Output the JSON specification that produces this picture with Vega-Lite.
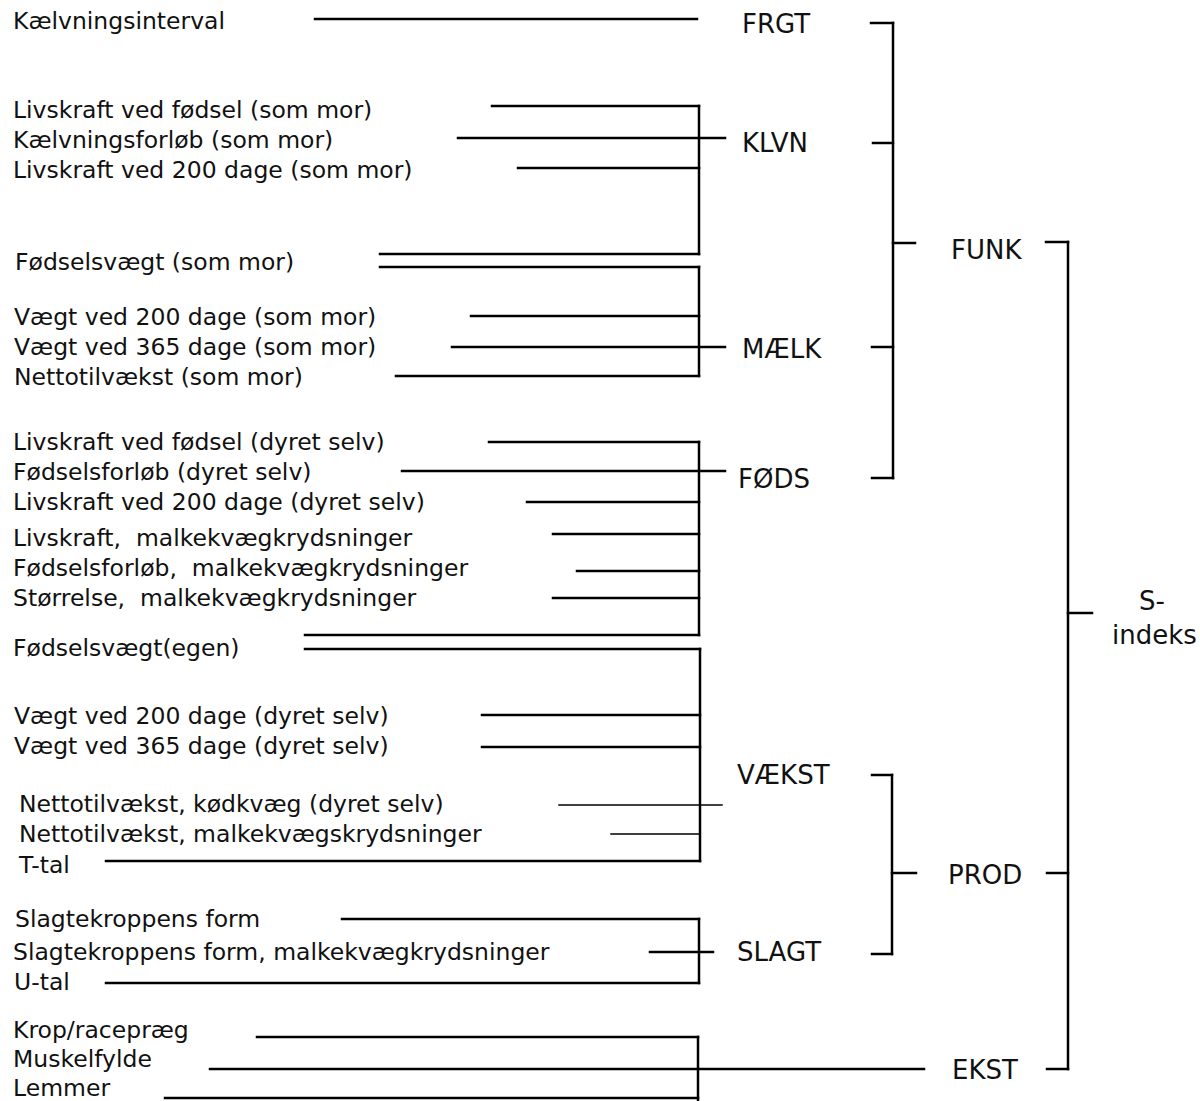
{
  "$schema": "https://vega.github.io/schema/vega-lite/v6.json",
  "autosize": {"type": "none"},
  "width": 1200,
  "height": 1101,
  "padding": 0,
  "background": "white",
  "config": {"view": {"stroke": null}},
  "datasets": {
    "linjer": [
      {"x": 315, "x2": 697, "y": 19, "y2": 19, "kind": "tyk"},
      {"x": 492, "x2": 699, "y": 106, "y2": 106, "kind": "tyk"},
      {"x": 458, "x2": 725, "y": 138, "y2": 138, "kind": "tyk"},
      {"x": 518, "x2": 699, "y": 168, "y2": 168, "kind": "tyk"},
      {"x": 380, "x2": 699, "y": 254, "y2": 254, "kind": "tyk"},
      {"x": 699, "x2": 699, "y": 106, "y2": 254, "kind": "tyk"},
      {"x": 380, "x2": 699, "y": 267, "y2": 267, "kind": "tyk"},
      {"x": 471, "x2": 699, "y": 316, "y2": 316, "kind": "tyk"},
      {"x": 452, "x2": 725, "y": 347, "y2": 347, "kind": "tyk"},
      {"x": 396, "x2": 699, "y": 376, "y2": 376, "kind": "tyk"},
      {"x": 699, "x2": 699, "y": 267, "y2": 376, "kind": "tyk"},
      {"x": 489, "x2": 699, "y": 442, "y2": 442, "kind": "tyk"},
      {"x": 402, "x2": 725, "y": 471, "y2": 471, "kind": "tyk"},
      {"x": 527, "x2": 699, "y": 502, "y2": 502, "kind": "tyk"},
      {"x": 553, "x2": 699, "y": 534, "y2": 534, "kind": "tyk"},
      {"x": 577, "x2": 699, "y": 571, "y2": 571, "kind": "tyk"},
      {"x": 553, "x2": 699, "y": 598, "y2": 598, "kind": "tyk"},
      {"x": 305, "x2": 699, "y": 635, "y2": 635, "kind": "tyk"},
      {"x": 699, "x2": 699, "y": 442, "y2": 635, "kind": "tyk"},
      {"x": 305, "x2": 700, "y": 649, "y2": 649, "kind": "tyk"},
      {"x": 482, "x2": 700, "y": 715, "y2": 715, "kind": "tyk"},
      {"x": 482, "x2": 700, "y": 747, "y2": 747, "kind": "tyk"},
      {"x": 559, "x2": 722, "y": 805, "y2": 805, "kind": "tynd"},
      {"x": 611, "x2": 700, "y": 834, "y2": 834, "kind": "tynd"},
      {"x": 106, "x2": 700, "y": 861, "y2": 861, "kind": "tyk"},
      {"x": 700, "x2": 700, "y": 649, "y2": 861, "kind": "tyk"},
      {"x": 342, "x2": 699, "y": 919, "y2": 919, "kind": "tyk"},
      {"x": 650, "x2": 713, "y": 952, "y2": 952, "kind": "tyk"},
      {"x": 106, "x2": 699, "y": 983, "y2": 983, "kind": "tyk"},
      {"x": 699, "x2": 699, "y": 919, "y2": 983, "kind": "tyk"},
      {"x": 257, "x2": 698, "y": 1037, "y2": 1037, "kind": "tyk"},
      {"x": 210, "x2": 924, "y": 1069, "y2": 1069, "kind": "tyk"},
      {"x": 165, "x2": 698, "y": 1098, "y2": 1098, "kind": "tyk"},
      {"x": 698, "x2": 698, "y": 1037, "y2": 1101, "kind": "tyk"},
      {"x": 871, "x2": 893, "y": 23, "y2": 23, "kind": "tyk"},
      {"x": 873, "x2": 893, "y": 143, "y2": 143, "kind": "tyk"},
      {"x": 872, "x2": 893, "y": 347, "y2": 347, "kind": "tyk"},
      {"x": 872, "x2": 893, "y": 478, "y2": 478, "kind": "tyk"},
      {"x": 893, "x2": 915, "y": 243, "y2": 243, "kind": "tyk"},
      {"x": 893, "x2": 893, "y": 23, "y2": 478, "kind": "tyk"},
      {"x": 872, "x2": 892, "y": 775, "y2": 775, "kind": "tyk"},
      {"x": 872, "x2": 892, "y": 954, "y2": 954, "kind": "tyk"},
      {"x": 892, "x2": 916, "y": 873, "y2": 873, "kind": "tyk"},
      {"x": 892, "x2": 892, "y": 775, "y2": 954, "kind": "tyk"},
      {"x": 1046, "x2": 1068, "y": 242, "y2": 242, "kind": "tyk"},
      {"x": 1047, "x2": 1068, "y": 873, "y2": 873, "kind": "tyk"},
      {"x": 1047, "x2": 1068, "y": 1069, "y2": 1069, "kind": "tyk"},
      {"x": 1068, "x2": 1092, "y": 613, "y2": 613, "kind": "tyk"},
      {"x": 1068, "x2": 1068, "y": 242, "y2": 1069, "kind": "tyk"}
    ],
    "tekster": [
      {"label": "Kælvningsinterval", "x": 13, "y": 29, "niveau": "egenskab"},
      {"label": "Livskraft ved fødsel (som mor)", "x": 13, "y": 118, "niveau": "egenskab"},
      {"label": "Kælvningsforløb (som mor)", "x": 13, "y": 148, "niveau": "egenskab"},
      {"label": "Livskraft ved 200 dage (som mor)", "x": 13, "y": 178, "niveau": "egenskab"},
      {"label": "Fødselsvægt (som mor)", "x": 15, "y": 270, "niveau": "egenskab"},
      {"label": "Vægt ved 200 dage (som mor)", "x": 14, "y": 325, "niveau": "egenskab"},
      {"label": "Vægt ved 365 dage (som mor)", "x": 14, "y": 355, "niveau": "egenskab"},
      {"label": "Nettotilvækst (som mor)", "x": 14, "y": 385, "niveau": "egenskab"},
      {"label": "Livskraft ved fødsel (dyret selv)", "x": 13, "y": 450, "niveau": "egenskab"},
      {"label": "Fødselsforløb (dyret selv)", "x": 13, "y": 480, "niveau": "egenskab"},
      {"label": "Livskraft ved 200 dage (dyret selv)", "x": 13, "y": 510, "niveau": "egenskab"},
      {"label": "Livskraft,\u00a0 malkekvægkrydsninger", "x": 13, "y": 546, "niveau": "egenskab"},
      {"label": "Fødselsforløb,\u00a0 malkekvægkrydsninger", "x": 13, "y": 576, "niveau": "egenskab"},
      {"label": "Størrelse,\u00a0 malkekvægkrydsninger", "x": 13, "y": 606, "niveau": "egenskab"},
      {"label": "Fødselsvægt(egen)", "x": 13, "y": 656, "niveau": "egenskab"},
      {"label": "Vægt ved 200 dage (dyret selv)", "x": 14, "y": 724, "niveau": "egenskab"},
      {"label": "Vægt ved 365 dage (dyret selv)", "x": 14, "y": 754, "niveau": "egenskab"},
      {"label": "Nettotilvækst, kødkvæg (dyret selv)", "x": 19, "y": 812, "niveau": "egenskab"},
      {"label": "Nettotilvækst, malkekvægskrydsninger", "x": 19, "y": 842, "niveau": "egenskab"},
      {"label": "T-tal", "x": 19, "y": 873, "niveau": "egenskab"},
      {"label": "Slagtekroppens form", "x": 15, "y": 927, "niveau": "egenskab"},
      {"label": "Slagtekroppens form, malkekvægkrydsninger", "x": 13, "y": 960, "niveau": "egenskab"},
      {"label": "U-tal", "x": 14, "y": 990, "niveau": "egenskab"},
      {"label": "Krop/racepræg", "x": 13, "y": 1038, "niveau": "egenskab"},
      {"label": "Muskelfylde", "x": 13, "y": 1067, "niveau": "egenskab"},
      {"label": "Lemmer", "x": 13, "y": 1096, "niveau": "egenskab"},
      {"label": "FRGT", "x": 742, "y": 33, "niveau": "indeks"},
      {"label": "KLVN", "x": 742, "y": 152, "niveau": "indeks"},
      {"label": "MÆLK", "x": 742, "y": 358, "niveau": "indeks"},
      {"label": "FØDS", "x": 738, "y": 488, "niveau": "indeks"},
      {"label": "VÆKST", "x": 737, "y": 784, "niveau": "indeks"},
      {"label": "SLAGT", "x": 737, "y": 961, "niveau": "indeks"},
      {"label": "FUNK", "x": 951, "y": 259, "niveau": "indeks"},
      {"label": "PROD", "x": 948, "y": 884, "niveau": "indeks"},
      {"label": "EKST", "x": 952, "y": 1079, "niveau": "indeks"},
      {"label": "S-", "x": 1139, "y": 610, "niveau": "indeks"},
      {"label": "indeks", "x": 1112, "y": 644, "niveau": "indeks"}
    ]
  },
  "layer": [
    {
      "data": {"name": "linjer"},
      "mark": {"type": "rule", "color": "#000000", "strokeCap": "square"},
      "encoding": {
        "x": {"field": "x", "type": "quantitative", "scale": {"domain": [0, 1200], "nice": false, "zero": false}, "axis": null},
        "x2": {"field": "x2"},
        "y": {"field": "y", "type": "quantitative", "scale": {"domain": [0, 1101], "nice": false, "zero": false, "reverse": true}, "axis": null},
        "y2": {"field": "y2"},
        "strokeWidth": {"field": "kind", "type": "nominal", "scale": {"domain": ["tyk", "tynd"], "range": [2.5, 1.5]}, "legend": null}
      }
    },
    {
      "data": {"name": "tekster"},
      "mark": {"type": "text", "align": "left", "baseline": "alphabetic", "font": "DejaVu Sans", "color": "#111111"},
      "encoding": {
        "x": {"field": "x", "type": "quantitative"},
        "y": {"field": "y", "type": "quantitative"},
        "text": {"field": "label", "type": "nominal"},
        "size": {"field": "niveau", "type": "nominal", "scale": {"domain": ["egenskab", "indeks"], "range": [23.5, 26]}, "legend": null}
      }
    }
  ]
}
